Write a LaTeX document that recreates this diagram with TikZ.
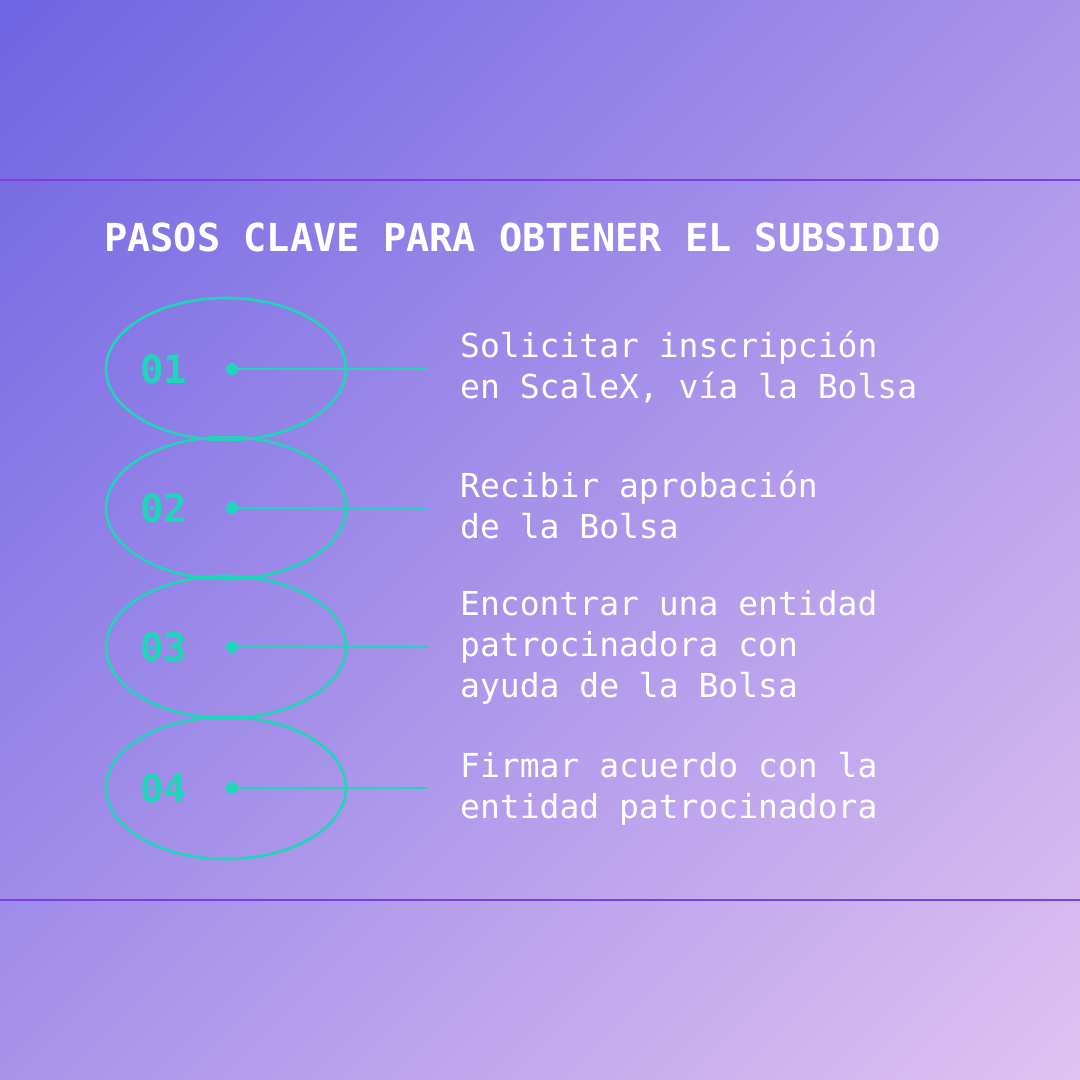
\documentclass[tikz,border=0pt]{standalone}
\usepackage{fontspec}
\setmonofont{DejaVu Sans Mono}
\definecolor{bgA}{HTML}{6A60E2}
\definecolor{bgB}{HTML}{E6C6F2}
\definecolor{rule}{HTML}{7B3FE0}
\definecolor{teal}{HTML}{1ED6B8}
\begin{document}
\begin{tikzpicture}[x=1pt,y=-1pt,
  ring/.style={draw=teal,line width=2.6pt},
  num/.style={text=teal,font=\ttfamily\bfseries\fontsize{39}{40}\selectfont,anchor=west,inner sep=0},
  lbl/.style={text=white,font=\ttfamily\fontsize{33}{41}\selectfont,anchor=west,align=left,inner sep=0},
  conn/.style={draw=teal,line width=2.6pt}]
\useasboundingbox (0,0) rectangle (1080,1080);
\shade[shading=axis,left color=bgA,right color=bgB,shading angle=45] (-300,-300) rectangle (1380,1380);
\draw[rule,line width=1.5pt] (0,180) -- (1080,180);
\draw[rule,line width=1.5pt] (0,900) -- (1080,900);
\node[text=white,font=\ttfamily\bfseries\fontsize{38.6}{42}\selectfont,anchor=west,inner sep=0] (title) at (104,237) {PASOS CLAVE PARA OBTENER EL SUBSIDIO};
\foreach \i/\y/\n in {1/369/01,2/508/02,3/647/03,4/788/04}{
  \draw[ring] (226,\y) ellipse [x radius=120,y radius=71];
  \node[num] (n\i) at (140,\y) {\n};
  \fill[teal] (232,\y) circle (6) coordinate (d\i);
  \coordinate (e\i) at (428,\y);
  \draw[conn] (d\i) -- (e\i);
}
\node[lbl] (t1) at (460,367) {Solicitar inscripción\\en ScaleX, vía la Bolsa};
\node[lbl] (t2) at (460,505) {Recibir aprobación\\de la Bolsa};
\node[lbl] (t3) at (460,647) {Encontrar una entidad\\patrocinadora con\\ayuda de la Bolsa};
\node[lbl] (t4) at (460,789) {Firmar acuerdo con la\\entidad patrocinadora};
\end{tikzpicture}
\end{document}
